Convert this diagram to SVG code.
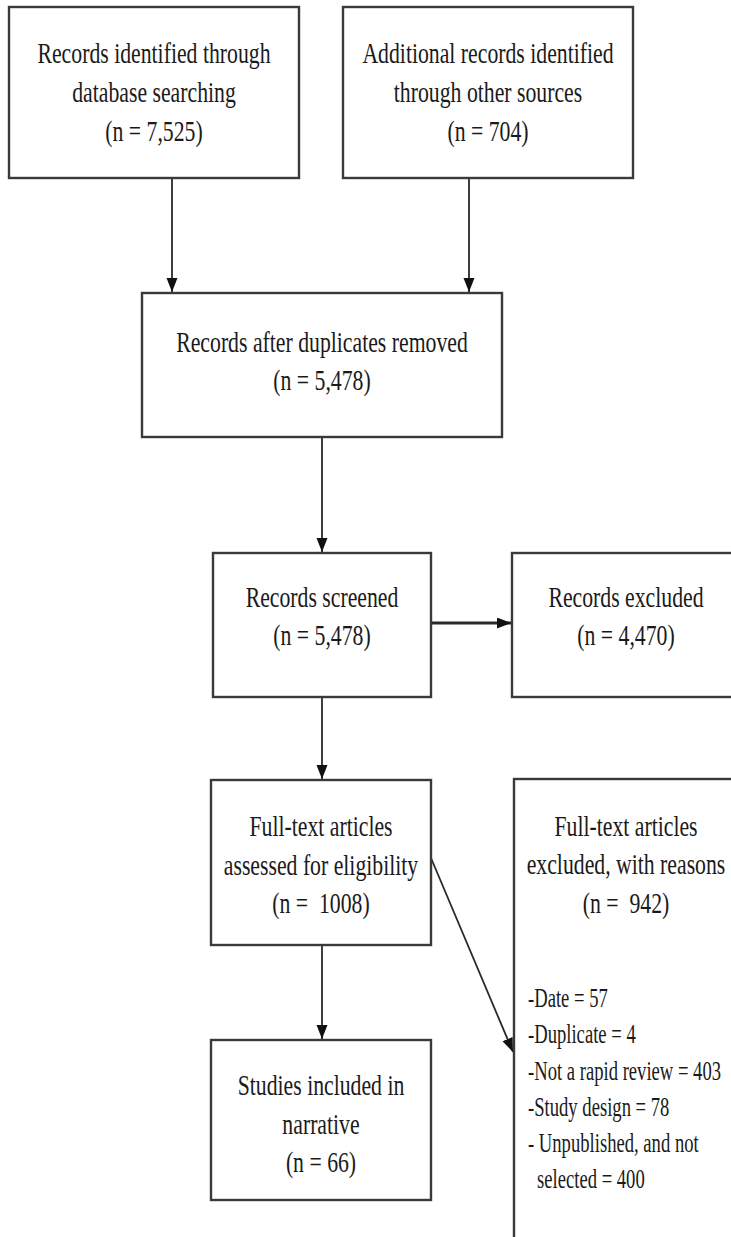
<svg xmlns="http://www.w3.org/2000/svg" width="731" height="1237" viewBox="0 0 731 1237">
<style>
.box{fill:#fff;stroke:#3a3a3a;stroke-width:2.4}
.t{font-family:"Liberation Serif","Times New Roman",serif;font-size:29px;fill:#1a1a1a;text-anchor:middle}
.l{font-family:"Liberation Serif","Times New Roman",serif;font-size:27px;fill:#1a1a1a;text-anchor:start}
.c{stroke:#2a2a2a;stroke-width:1.8;fill:none}
</style>
<defs>
<marker id="ah" markerUnits="userSpaceOnUse" markerWidth="14" markerHeight="12" viewBox="0 0 14 12" refX="14" refY="5.5" orient="auto">
<path d="M0,0 L14,5.5 L0,11 z" fill="#111"/>
</marker>
</defs>
<rect width="731" height="1237" fill="#fff"/>
<g id="connectors">
<line class="c" x1="172" y1="178" x2="172" y2="292" marker-end="url(#ah)"/>
<line class="c" x1="469" y1="178" x2="469" y2="292" marker-end="url(#ah)"/>
<line class="c" x1="322" y1="437" x2="322" y2="552" marker-end="url(#ah)"/>
<line class="c" x1="431" y1="623" x2="511" y2="623" style="stroke-width:3" marker-end="url(#ah)"/>
<line class="c" x1="322" y1="697" x2="322" y2="779" marker-end="url(#ah)"/>
<line class="c" x1="322" y1="945" x2="322" y2="1039" marker-end="url(#ah)"/>
<line class="c" x1="431" y1="858" x2="513" y2="1052" marker-end="url(#ah)"/>
</g>
<g id="n1">
<rect class="box" x="9" y="7" width="290" height="171"/>
<text class="t" transform="translate(154 63) scale(0.75 1)">Records identified through</text>
<text class="t" transform="translate(154 102) scale(0.75 1)">database searching</text>
<text class="t" transform="translate(154 141) scale(0.75 1)">(n = 7,525)</text>
</g>
<g id="n2">
<rect class="box" x="343" y="7" width="290" height="171"/>
<text class="t" transform="translate(488 63) scale(0.75 1)">Additional records identified</text>
<text class="t" transform="translate(488 102) scale(0.75 1)">through other sources</text>
<text class="t" transform="translate(488 141) scale(0.75 1)">(n = 704)</text>
</g>
<g id="n3">
<rect class="box" x="142" y="293" width="360" height="144"/>
<text class="t" transform="translate(322 352) scale(0.75 1)">Records after duplicates removed</text>
<text class="t" transform="translate(322 390) scale(0.75 1)">(n = 5,478)</text>
</g>
<g id="n4">
<rect class="box" x="213" y="553" width="218" height="144"/>
<text class="t" transform="translate(322 607) scale(0.75 1)">Records screened</text>
<text class="t" transform="translate(322 645) scale(0.75 1)">(n = 5,478)</text>
</g>
<g id="n5">
<rect class="box" x="512" y="553" width="240" height="144"/>
<text class="t" transform="translate(626 607) scale(0.75 1)">Records excluded</text>
<text class="t" transform="translate(626 645) scale(0.75 1)">(n = 4,470)</text>
</g>
<g id="n6">
<rect class="box" x="211" y="780" width="220" height="165"/>
<text class="t" transform="translate(321 836) scale(0.75 1)">Full-text articles</text>
<text class="t" transform="translate(321 875) scale(0.75 1)">assessed for eligibility</text>
<text class="t" transform="translate(321 913) scale(0.75 1)" xml:space="preserve">(n =  1008)</text>
</g>
<g id="n7">
<rect class="box" x="211" y="1040" width="220" height="160"/>
<text class="t" transform="translate(321 1095) scale(0.75 1)">Studies included in</text>
<text class="t" transform="translate(321 1134) scale(0.75 1)">narrative</text>
<text class="t" transform="translate(321 1172) scale(0.75 1)">(n = 66)</text>
</g>
<g id="n8">
<rect class="box" x="514" y="779" width="240" height="480"/>
<text class="t" transform="translate(626 836) scale(0.75 1)">Full-text articles</text>
<text class="t" transform="translate(626 874) scale(0.75 1)">excluded, with reasons</text>
<text class="t" transform="translate(626 913) scale(0.75 1)" xml:space="preserve">(n =  942)</text>
<text class="l" transform="translate(528 1007) scale(0.69 1)">-Date = 57</text>
<text class="l" transform="translate(528 1043) scale(0.69 1)">-Duplicate = 4</text>
<text class="l" transform="translate(528 1080) scale(0.69 1)">-Not a rapid review = 403</text>
<text class="l" transform="translate(528 1116) scale(0.69 1)">-Study design = 78</text>
<text class="l" transform="translate(528 1152) scale(0.69 1)">- Unpublished, and not</text>
<text class="l" transform="translate(537 1188) scale(0.69 1)">selected = 400</text>
</g>
</svg>
